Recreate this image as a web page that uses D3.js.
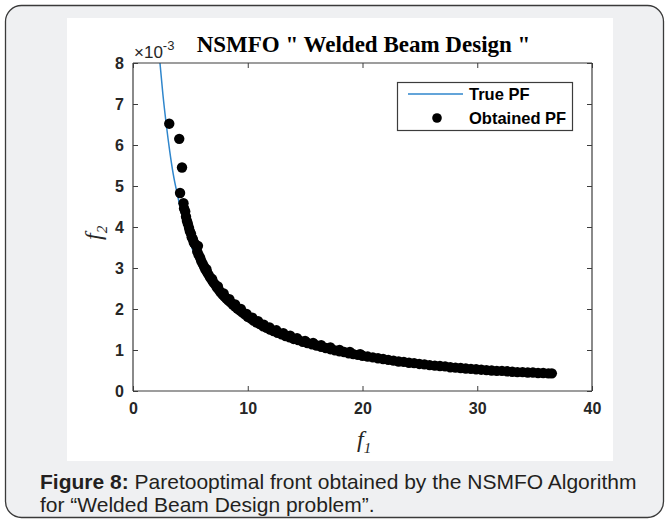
<!DOCTYPE html>
<html><head><meta charset="utf-8">
<script src="https://cdn.jsdelivr.net/npm/d3@7"></script>
<style>
html,body{margin:0;padding:0;background:#fff;}
svg{display:block;}
</style></head>
<body>
<script>
// ---- data ----
const xTicks = [0, 10, 20, 30, 40];
const yTicks = [0, 1, 2, 3, 4, 5, 6, 7, 8];
const trueF1 = [2.35, 2.6, 2.9, 3.2, 3.5, 3.9, 4.4, 5.0, 5.8, 6.6, 7.6, 8.8, 10.2, 12, 14, 16.5, 19.5, 23, 27, 31, 36.5];
const trueF2 = [8.0, 7.25, 6.5, 5.85, 5.3, 4.75, 4.15, 3.6, 3.05, 2.68, 2.3, 1.98, 1.7, 1.45, 1.24, 1.04, 0.87, 0.73, 0.61, 0.53, 0.44];
const obtF1 = [3.16, 4.03, 4.27, 4.10,
 4.40, 4.45, 4.55, 4.62, 4.70, 4.78, 4.88, 4.95, 5.05, 5.12, 5.22, 5.30, 5.42, 5.55, 5.66, 5.60, 5.72, 5.85, 5.95, 6.08, 6.20, 6.32, 6.45, 6.58, 6.72, 6.85,
 7.00, 7.15, 7.30, 7.45, 7.60, 7.78, 7.95, 8.12, 8.30, 8.50, 8.70, 8.90, 9.10, 9.30, 9.52, 9.75, 10.00, 10.25, 10.50, 10.78,
 11.05, 11.35, 11.65, 11.95, 12.25, 12.60, 12.95, 13.30, 13.65, 14.00, 14.40, 14.80, 15.20, 15.60, 16.00, 16.40, 16.80, 17.20, 17.60, 18.00,
 18.40, 18.80, 19.20, 19.60, 20.00, 20.45, 20.90, 21.35, 21.80, 22.25, 22.70, 23.15, 23.60, 24.05, 24.50, 24.95, 25.40, 25.85, 26.30, 26.75,
 27.20, 27.65, 28.10, 28.55, 29.00, 29.45, 29.90, 30.35, 30.80, 31.25, 31.70, 32.15, 32.60, 33.05, 33.50, 33.95, 34.40, 34.85, 35.30, 35.75, 36.20, 36.50,
 6.40, 6.90, 7.40, 7.90, 8.40, 8.90, 9.40, 9.90, 10.40, 10.90, 11.40, 11.90, 12.50, 13.10, 13.70, 14.30, 15.00, 15.70, 16.40, 17.20, 18.00, 18.90, 19.80];
const obtF2 = [6.52, 6.15, 5.45, 4.83,
 4.58, 4.45, 4.38, 4.25, 4.15, 4.08, 3.98, 3.90, 3.84, 3.75, 3.70, 3.62, 3.58, 3.52, 3.54, 3.40, 3.32, 3.25, 3.17, 3.10, 3.03, 2.96, 2.90, 2.84, 2.77, 2.72,
 2.65, 2.60, 2.53, 2.48, 2.42, 2.36, 2.31, 2.26, 2.21, 2.16, 2.11, 2.06, 2.01, 1.97, 1.92, 1.87, 1.81, 1.77, 1.72, 1.67,
 1.63, 1.58, 1.54, 1.50, 1.46, 1.42, 1.38, 1.34, 1.31, 1.27, 1.24, 1.20, 1.17, 1.14, 1.11, 1.08, 1.05, 1.02, 0.99, 0.97,
 0.95, 0.92, 0.90, 0.88, 0.86, 0.84, 0.82, 0.80, 0.78, 0.76, 0.74, 0.72, 0.71, 0.69, 0.68, 0.66, 0.65, 0.63, 0.62, 0.61,
 0.60, 0.58, 0.57, 0.56, 0.55, 0.54, 0.53, 0.52, 0.51, 0.50, 0.49, 0.49, 0.48, 0.47, 0.46, 0.46, 0.45, 0.45, 0.44, 0.44, 0.43, 0.43,
 2.97, 2.73, 2.55, 2.38, 2.24, 2.11, 2.00, 1.88, 1.79, 1.70, 1.62, 1.55, 1.48, 1.41, 1.35, 1.29, 1.22, 1.17, 1.12, 1.06, 1.00, 0.95, 0.90];

const W = 669, H = 521;
const svg = d3.select("body").append("svg").attr("width", W).attr("height", H);

// outer panel
svg.append("rect").attr("x", 5.5).attr("y", 5.5).attr("width", 658).attr("height", 512)
  .attr("rx", 16).attr("fill", "#eff0f2").attr("stroke", "#3a3a3a").attr("stroke-width", 1.3);
svg.append("rect").attr("x", 67).attr("y", 18).attr("width", 546).attr("height", 443).attr("fill", "#fff");

const L = 133, R = 592, T = 63, B = 391;
const x = d3.scaleLinear().domain([0, 40]).range([L, R]);
const y = d3.scaleLinear().domain([0, 8]).range([B, T]);
const axCol = "#3c3c3c";
const tickFont = "bold 16px 'Liberation Sans', Arial, sans-serif";

const g = svg.append("g");
svg.append("clipPath").attr("id", "clip").append("rect").attr("x", L).attr("y", T).attr("width", R - L).attr("height", B - T);

// true PF
g.append("path").datum(trueF1.map((d, i) => [d, trueF2[i]]))
  .attr("clip-path", "url(#clip)")
  .attr("fill", "none").attr("stroke", "#2f86cc").attr("stroke-width", 1.5)
  .attr("d", d3.line().curve(d3.curveMonotoneX).x(d => x(d[0])).y(d => y(d[1])));

// obtained PF
g.selectAll("circle.o").data(obtF1.map((d, i) => [d, obtF2[i]])).enter().append("circle")
  .attr("cx", d => x(d[0])).attr("cy", d => y(d[1])).attr("r", 5.2).attr("fill", "#000");

// axes
const axB = svg.append("g").attr("transform", `translate(0,${B})`)
  .call(d3.axisBottom(x).tickValues(xTicks).tickSize(-5).tickPadding(12).tickFormat(d3.format("d")));
const axT = svg.append("g").attr("transform", `translate(0,${T})`)
  .call(d3.axisTop(x).tickValues(xTicks).tickSize(-5).tickFormat(""));
const axL = svg.append("g").attr("transform", `translate(${L},0)`)
  .call(d3.axisLeft(y).tickValues(yTicks).tickSize(-5).tickPadding(9).tickFormat(d3.format("d")));
const axR = svg.append("g").attr("transform", `translate(${R},0)`)
  .call(d3.axisRight(y).tickValues(yTicks).tickSize(-5).tickFormat(""));
[axB, axT, axL, axR].forEach(a => {
  a.select(".domain").attr("stroke", axCol).attr("stroke-width", 1.2);
  a.selectAll(".tick line").attr("stroke", axCol);
  a.selectAll("text").style("font", tickFont).attr("fill", "#262626");
});
axB.select(".domain").attr("d", `M${L},0H${R}`);
axT.select(".domain").attr("d", `M${L},0H${R}`);
axL.select(".domain").attr("d", `M0,${T}V${B}`);
axR.select(".domain").attr("d", `M0,${T}V${B}`);

// exponent
const ex = svg.append("text").attr("x", 134).attr("y", 58).attr("fill", "#262626")
  .style("font", "17px 'Liberation Sans', Arial, sans-serif");
ex.append("tspan").text("×10");
ex.append("tspan").attr("dy", -8).style("font-size", "13px").text("-3");

// title
svg.append("text").attr("x", (L + R) / 2 + 1).attr("y", 52).attr("text-anchor", "middle")
  .attr("fill", "#000").style("font", "bold 23px 'Liberation Serif', 'Times New Roman', serif")
  .text('NSMFO " Welded Beam Design "');

// axis labels
const xl = svg.append("text").attr("x", 357).attr("y", 447).attr("fill", "#262626")
  .style("font", "italic 24px 'Liberation Serif', 'Times New Roman', serif");
xl.append("tspan").text("f");
xl.append("tspan").attr("dy", 6).style("font-size", "15px").text("1");
const yl = svg.append("text").attr("transform", "translate(101,240) rotate(-90)").attr("fill", "#262626")
  .style("font", "italic 24px 'Liberation Serif', 'Times New Roman', serif");
yl.append("tspan").text("f");
yl.append("tspan").attr("dy", 6).style("font-size", "15px").text("2");

// legend
svg.append("rect").attr("x", 397.5).attr("y", 82.5).attr("width", 175).attr("height", 48)
  .attr("fill", "#fff").attr("stroke", axCol).attr("stroke-width", 1.2);
svg.append("line").attr("x1", 408).attr("x2", 463).attr("y1", 94).attr("y2", 94)
  .attr("stroke", "#2f86cc").attr("stroke-width", 1.5);
svg.append("circle").attr("cx", 437).attr("cy", 118).attr("r", 4.8).attr("fill", "#000");
const legFont = "bold 16.5px 'Liberation Sans', Arial, sans-serif";
svg.append("text").attr("x", 469).attr("y", 100).style("font", legFont).attr("fill", "#000").text("True PF");
svg.append("text").attr("x", 469).attr("y", 124).style("font", legFont).attr("fill", "#000").text("Obtained PF");

// caption
const capFont = "21px 'Liberation Sans', Arial, sans-serif";
const c1 = svg.append("text").attr("x", 40).attr("y", 489).attr("fill", "#231f20").style("font", capFont);
c1.append("tspan").style("font-weight", "bold").text("Figure 8:");
c1.append("tspan").text(" Paretooptimal front obtained by the NSMFO Algorithm");
svg.append("text").attr("x", 40).attr("y", 512).attr("fill", "#231f20").style("font", capFont)
  .text("for “Welded Beam Design problem”.");
</script>
</body></html>
